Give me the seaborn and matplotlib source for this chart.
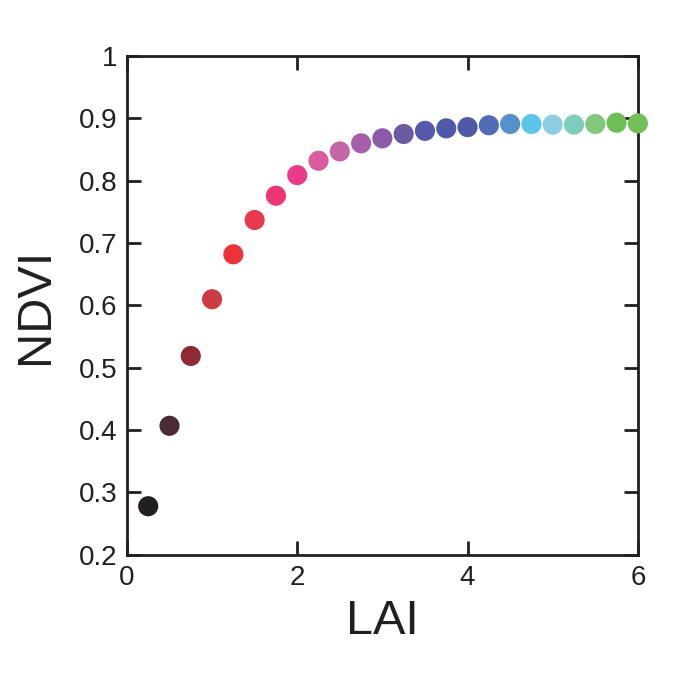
import pandas as pd
import matplotlib.pyplot as plt
import seaborn as sns
import matplotlib
from matplotlib.ticker import FuncFormatter

# 数据
lai = [0.25, 0.5, 0.75, 1.0, 1.25, 1.5, 1.75, 2.0, 2.25, 2.5, 2.75, 3.0,
       3.25, 3.5, 3.75, 4.0, 4.25, 4.5, 4.75, 5.0, 5.25, 5.5, 5.75, 6.0]
ndvi = [0.278, 0.407, 0.519, 0.610, 0.682, 0.737, 0.776, 0.809, 0.832, 0.847,
        0.860, 0.868, 0.875, 0.880, 0.884, 0.886, 0.889, 0.891, 0.891, 0.890,
        0.890, 0.891, 0.893, 0.892]
point_colors = ['#231f20', '#4a2b33', '#8e2a33', '#cc3a44', '#ee3338', '#e83a4e',
                '#ec3575', '#ec3a8a', '#dc5a9e', '#c466a8', '#a65ea8', '#8c5aa8',
                '#6e5aa0', '#5658ac', '#5058a8', '#5058a8', '#4f6cb4', '#5592cc',
                '#5cc3ea', '#8bcde2', '#7ccdbb', '#80c87a', '#6dbf55', '#73c05a']

sns.set_style('ticks')
matplotlib.rcParams['font.family'] = ['Liberation Sans', 'DejaVu Sans']

df = pd.DataFrame({'LAI': lai, 'NDVI': ndvi, 'idx': range(len(lai))})

fig = plt.figure(figsize=(6.75, 6.75), dpi=100)
ax = fig.add_axes([0.188, 0.178, 0.757, 0.739])

sns.scatterplot(data=df, x='LAI', y='NDVI', hue='idx', palette=point_colors,
                s=210, edgecolor='none', legend=False, ax=ax, clip_on=False, zorder=3)

ax.set_xlim(0, 6)
ax.set_ylim(0.2, 1.0)
ax.set_xticks([0, 2, 4, 6])
ax.set_yticks([0.2, 0.3, 0.4, 0.5, 0.6, 0.7, 0.8, 0.9, 1.0])
ax.yaxis.set_major_formatter(FuncFormatter(lambda v, p: '1' if abs(v - 1) < 1e-6 else f'{v:.1f}'))
ax.xaxis.set_major_formatter(FuncFormatter(lambda v, p: f'{v:.0f}'))

for sp in ax.spines.values():
    sp.set_visible(True)
    sp.set_linewidth(2.0)
    sp.set_color('#231f20')

ax.tick_params(direction='in', length=10, width=2.0, color='#231f20',
               top=True, right=True, labelsize=20, pad=7, labelcolor='#231f20')

ax.set_xlabel('LAI', fontsize=35, color='#231f20', labelpad=6)
ax.set_ylabel('NDVI', fontsize=35, color='#231f20', labelpad=15)

fig.savefig('out.png', dpi=100, facecolor='white')
plt.close()
